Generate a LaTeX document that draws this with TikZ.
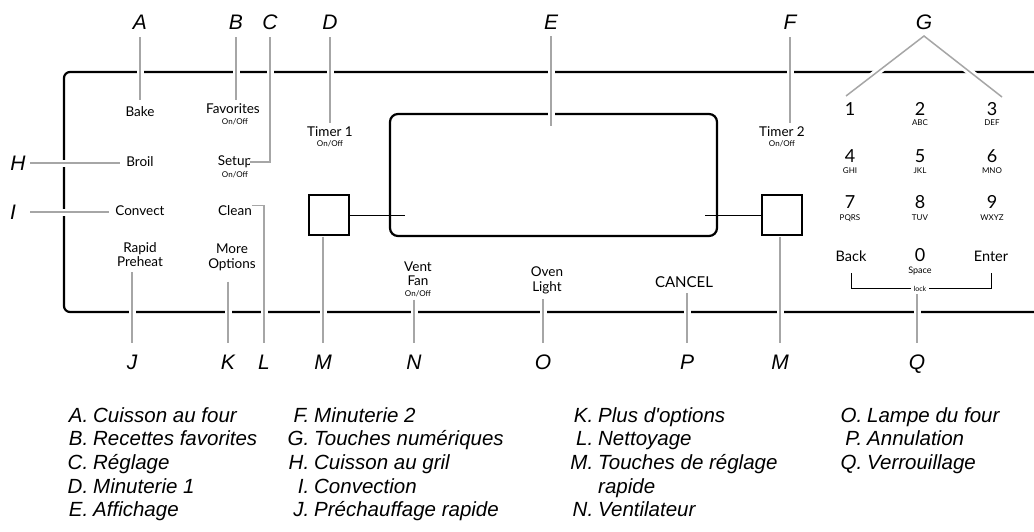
\documentclass[tikz,border=0pt]{standalone}
\usepackage{fontspec}
\newfontfamily\arialf{Liberation Sans}
\newfontfamily\latof{Lato}
\begin{document}
\begin{tikzpicture}[x=1pt,y=-1pt,
  plbl/.style={font=\arialf\itshape\fontsize{21}{24}\selectfont, inner sep=0pt, text height=15pt, text depth=0pt},
  pkey/.style={font=\latof\fontsize{13.5}{15}\selectfont, inner sep=0pt, text height=10pt, text depth=3pt},
  psub/.style={font=\latof\fontsize{8}{9}\selectfont, inner sep=0pt, text height=6pt, text depth=0pt},
  pdigit/.style={font=\latof\fontsize{18}{20}\selectfont, inner sep=0pt, text height=13pt, text depth=0pt},
  leader/.style={draw=black!35, line width=1.5pt, preaction={draw=white, line width=7pt}},
  panel/.style={draw=black, line width=2.2pt, rounded corners=6pt},
  sqkey/.style={draw=black, line width=1.1pt, minimum size=40pt, inner sep=0pt},
  thinline/.style={draw=black, line width=0.9pt},
  leg/.style={font=\arialf\itshape\fontsize{20.5}{24}\selectfont, inner sep=0pt, anchor=base west},
]
\fill[white] (0,0) rectangle (1034,531);
\useasboundingbox (0,0) rectangle (1034,531);

% panel outline
\draw[panel] (1034,72) -- (64,72) -- (64,312) -- (1034,312);
% display
\node[draw=black, line width=2.2pt, rounded corners=8pt, minimum width=327pt, minimum height=122pt, inner sep=0pt] (disp) at (553.5,175) {};
% quick set keys
\node[sqkey] (m1) at (329,215) {};
\node[sqkey] (m2) at (782,215) {};
\coordinate (d1) at (405,215);
\coordinate (d2) at (705,215);
\draw[thinline] (m1.east) -- (d1);
\draw[thinline] (d2) -- (m2.west);

% panel texts
\node[pkey] (bake) at (140,113) {Bake};
\node[pkey] (fav) at (233,110) {Favorites};
\node[psub] (favsub) at (235,121) {On/Off};
\node[pkey] (setup) at (235,162) {Setup};
\node[psub] (setupsub) at (235,174) {On/Off};
\node[pkey] (broil) at (140,163) {Broil};
\node[pkey] (convect) at (140,212) {Convect};
\node[pkey] (clean) at (235,212) {Clean};
\node[pkey] (rapid) at (140,249) {Rapid};
\node[pkey] (preheat) at (140,263) {Preheat};
\node[pkey] (more) at (232,250) {More};
\node[pkey] (options) at (232,265) {Options};
\node[pkey] (timer1) at (330,133) {Timer 1};
\node[psub] (timer1sub) at (330,143) {On/Off};
\node[pkey] (timer2) at (782,133) {Timer 2};
\node[psub] (timer2sub) at (782,143) {On/Off};
\node[pkey] (vent) at (418,268) {Vent};
\node[pkey] (fan) at (418,282) {Fan};
\node[psub] (ventsub) at (418,293) {On/Off};
\node[pkey] (oven) at (547,273) {Oven};
\node[pkey] (light) at (547,288) {Light};
\node[pkey, font=\latof\fontsize{15}{16}\selectfont] (cancel) at (684,284) {CANCEL};

% keypad
\node[pdigit] (k1) at (850,109) {1};
\node[pdigit] (k2) at (920,109) {2};
\node[psub] (k2s) at (920,122) {ABC};
\node[pdigit] (k3) at (992,109) {3};
\node[psub] (k3s) at (992,122) {DEF};
\node[pdigit] (k4) at (850,156) {4};
\node[psub] (k4s) at (850,170) {GHI};
\node[pdigit] (k5) at (920,156) {5};
\node[psub] (k5s) at (920,170) {JKL};
\node[pdigit] (k6) at (992,156) {6};
\node[psub] (k6s) at (992,170) {MNO};
\node[pdigit] (k7) at (850,202) {7};
\node[psub] (k7s) at (850,217) {PQRS};
\node[pdigit] (k8) at (920,202) {8};
\node[psub] (k8s) at (920,217) {TUV};
\node[pdigit] (k9) at (992,202) {9};
\node[psub] (k9s) at (992,217) {WXYZ};
\node[pkey, font=\latof\fontsize{14.5}{16}\selectfont] (back) at (851,258) {Back};
\node[pdigit] (k0) at (920,255) {0};
\node[psub, font=\latof\fontsize{9}{10}\selectfont] (space) at (920,270) {Space};
\node[pkey, font=\latof\fontsize{14.5}{16}\selectfont] (enter) at (991,258) {Enter};
\coordinate (lb) at (851,273);
\coordinate (rb) at (991,273);
\draw[line width=0.8pt] (lb) |- (rb |- 920,288) -- (rb);
\node[psub, font=\latof\fontsize{7}{8}\selectfont, fill=white, inner xsep=3pt, inner ysep=1pt] (lock) at (920,288) {lock};

% letters
\node[plbl] (A) at (140,22) {A};
\node[plbl] (B) at (236,22) {B};
\node[plbl] (C) at (270,22) {C};
\node[plbl] (D) at (330,22) {D};
\node[plbl] (E) at (551,22) {E};
\node[plbl] (F) at (790,22) {F};
\node[plbl] (G) at (924,22) {G};
\node[plbl] (H) at (18,163) {H};
\node[plbl] (I) at (13,212) {I};
\node[plbl] (J) at (132,362) {J};
\node[plbl] (K) at (228,362) {K};
\node[plbl] (L) at (264,362) {L};
\node[plbl] (M1) at (323,362) {M};
\node[plbl] (N) at (414,362) {N};
\node[plbl] (O) at (543,362) {O};
\node[plbl] (P) at (687,362) {P};
\node[plbl] (M2) at (780,362) {M};
\node[plbl] (Q) at (917,362) {Q};

% leaders
\draw[leader, shorten <=15pt, shorten >=6.5pt] (A.center) -- (A.center |- bake.north);
\draw[leader, shorten <=15pt, shorten >=3.5pt] (B.center) -- (B.center |- fav.north);
\draw[leader, shorten <=15pt, shorten >=-2pt] (C.center) |- (setup.east);
\draw[leader, shorten <=15pt, shorten >=3.5pt] (D.center) -- (D.center |- timer1.north);
\draw[leader, shorten <=14pt, shorten >=-13pt] (E.center) -- (E.center |- disp.north);
\draw[leader, shorten <=15pt, shorten >=3.5pt] (F.center) -- (F.center |- timer2.north);
\coordinate (g1) at (846,96);
\coordinate (g3) at (1002,97);
\draw[leader] (g1) -- ([yshift=-14pt]G.center) -- (g3);
\draw[leader, shorten <=12pt, shorten >=6pt] (H.center) -- (broil.west |- H.center);
\draw[leader, shorten <=17pt, shorten >=6pt] (I.center) -- (convect.west |- I.center);
\draw[leader, shorten <=2.5pt, shorten >=19pt] (J.center |- preheat.south) -- (J.center);
\draw[leader, shorten <=10pt, shorten >=19pt] (K.center |- options.south) -- (K.center);
\draw[leader, shorten >=19pt] (clean.north east) -| (L.center);
\draw[leader, shorten <=1pt, shorten >=19pt] (M1.center |- m1.south) -- (M1.center);
\draw[leader, shorten <=3.5pt, shorten >=19pt] (N.center |- ventsub.south) -- (N.center);
\draw[leader, shorten <=4.5pt, shorten >=19pt] (O.center |- light.south) -- (O.center);
\draw[leader, shorten <=2.5pt, shorten >=19pt] (P.center |- cancel.south) -- (P.center);
\draw[leader, shorten <=1pt, shorten >=19pt] (M2.center |- m2.south) -- (M2.center);
\draw[leader, shorten <=2pt, shorten >=19pt] (Q.center |- lock.south) -- (Q.center);

% legend
\node[leg] (la) at (68,422) {\makebox[20pt][r]{A.}\hspace{5pt}Cuisson au four};
\node[leg] (lb2) at (68,445.7) {\makebox[20pt][r]{B.}\hspace{5pt}Recettes favorites};
\node[leg] (lc) at (68,469.4) {\makebox[20pt][r]{C.}\hspace{5pt}Réglage};
\node[leg] (ld) at (68,493.1) {\makebox[20pt][r]{D.}\hspace{5pt}Minuterie 1};
\node[leg] (le) at (68,516.8) {\makebox[20pt][r]{E.}\hspace{5pt}Affichage};
\node[leg] (lf) at (289,422) {\makebox[20pt][r]{F.}\hspace{5pt}Minuterie 2};
\node[leg] (lg) at (289,445.7) {\makebox[20pt][r]{G.}\hspace{5pt}Touches numériques};
\node[leg] (lh) at (289,469.4) {\makebox[20pt][r]{H.}\hspace{5pt}Cuisson au gril};
\node[leg] (li) at (289,493.1) {\makebox[20pt][r]{I.}\hspace{5pt}Convection};
\node[leg] (lj) at (289,516.8) {\makebox[20pt][r]{J.}\hspace{5pt}Préchauffage rapide};
\node[leg] (lk) at (573,422) {\makebox[20pt][r]{K.}\hspace{5pt}Plus d\textquotesingle options};
\node[leg] (ll) at (573,445.7) {\makebox[20pt][r]{L.}\hspace{5pt}Nettoyage};
\node[leg] (lm) at (573,469.4) {\makebox[20pt][r]{M.}\hspace{5pt}Touches de réglage};
\node[leg] (lm2) at (598,493.1) {rapide};
\node[leg] (ln) at (573,516.8) {\makebox[20pt][r]{N.}\hspace{5pt}Ventilateur};
\node[leg] (lo) at (842,422) {\makebox[20pt][r]{O.}\hspace{5pt}Lampe du four};
\node[leg] (lp) at (842,445.7) {\makebox[20pt][r]{P.}\hspace{5pt}Annulation};
\node[leg] (lq) at (842,469.4) {\makebox[20pt][r]{Q.}\hspace{5pt}Verrouillage};
\end{tikzpicture}
\end{document}
